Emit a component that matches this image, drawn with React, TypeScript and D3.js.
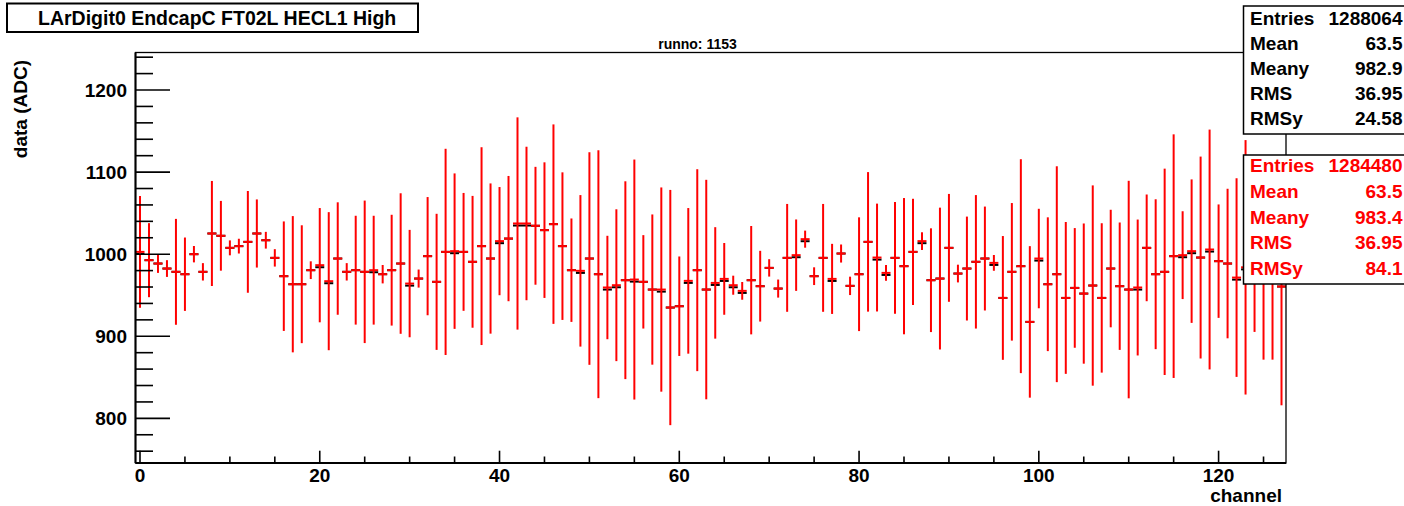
import React from "react";
import * as d3 from "d3";

// channel profile data (red = current run, black = reference)
const channels: number[] = d3.range(0, 128);

const redMean: number[] = [
  1002.8, 992.7, 988.6, 982.5, 978.5, 975.6, 1000, 978.5, 1025.2, 1022.4,
  1007.7, 1009.8, 1015, 1025.2, 1017, 995.5, 973.2, 963.4, 963.4, 980.5,
  986.6, 967.1, 994.7, 978.5, 980.5, 978.5, 980.5, 975.6, 980.5, 988.6,
  964.2, 970.3, 997.6, 966.3, 1002.8, 1003.7, 1002.8, 990.7, 1009.8, 994.7,
  1015.9, 1019, 1037.4, 1037.4, 1034.6, 1029.3, 1036.6, 1009.8, 980.5, 979.7,
  994.7, 975.6, 959.4, 962.2, 968.3, 969.1, 966.3, 956.9, 956.9, 935,
  936.6, 967.5, 980.5, 956.9, 965, 969.9, 962.2, 955.3, 968.3, 961,
  983.3, 958.1, 995.5, 998.8, 1018.3, 973.2, 995.5, 969.9, 1000.8, 961.4,
  975.6, 1015, 995.9, 977.2, 995.5, 985.4, 1002.8, 1015.9, 968.3, 970.3,
  1007.7, 976.4, 982.5, 990.7, 994.7, 989.4, 946.7, 978.5, 985.4, 917.5,
  994.7, 963.4, 975.6, 946.7, 958.9, 952, 961.8, 946.7, 982.5, 961,
  956.9, 959.4, 1007.7, 975.6, 978.5, 997.6, 998.8, 1003.7, 995.9, 1005.7,
  991.5, 988.6, 971.5, 984, 975, 968, 972, 960.6,
];

const redErr: number[] = [
  68.1, 45.1, 11.4, 10.2, 64.5, 44.7, 10, 10.6, 64, 42.5,
  9.1, 9, 62, 41.5, 10.2, 10.6, 66.7, 83, 71.8, 10.8,
  69.6, 84.1, 68.5, 10.6, 66.3, 86.8, 66.3, 11.2, 67.5, 85.6,
  65.4, 11, 72, 82.9, 125.6, 94.7, 71.8, 80.3, 120.5, 91.5,
  65.9, 76.3, 129.3, 93.5, 71.8, 82.6, 121.5, 89.9, 63, 92.3,
  129.5, 151, 63, 92.5, 120.5, 146.2, 56.9, 91.5, 124.4, 143.3,
  60.6, 88.7, 123, 133.7, 67.9, 43.7, 11.6, 10.8, 66, 43.1,
  10.6, 11, 65.7, 43.5, 10.4, 10.8, 65.7, 42.7, 11, 11.2,
  69.3, 85, 65.7, 9.6, 68.1, 83, 64.7, 10.8, 63.2, 86.4,
  65.7, 10.8, 63.3, 81.3, 63.3, 9.6, 75.4, 83.8, 130.3, 92.3,
  60.6, 81.5, 131.5, 92.5, 72.9, 85.4, 122, 91, 71.6, 77.6,
  132.5, 82.8, 65, 91.3, 125.7, 148.4, 53.5, 87.4, 123, 146.1,
  69.1, 91.1, 121, 155, 69.7, 96.5, 100.5, 144.7,
];

const blackMean: number[] = [
  1000.3, 992.7, 988.6, 982.5, 978.5, 975.6, 1000, 978.5, 1025.2, 1022.4,
  1007.7, 1009.8, 1015, 1025.2, 1017, 995.5, 973.2, 963.4, 963.4, 980.5,
  984.1, 964.6, 994.7, 978.5, 980.5, 978.5, 978.0, 975.6, 980.5, 988.6,
  961.7, 970.3, 997.6, 966.3, 1002.8, 1001.2, 1002.8, 990.7, 1009.8, 994.7,
  1013.4, 1019, 1034.9, 1034.9, 1034.6, 1029.3, 1036.6, 1009.8, 980.5, 977.2,
  994.7, 975.6, 956.9, 959.7, 968.3, 966.6, 966.3, 956.9, 954.4, 935,
  936.6, 965.0, 980.5, 956.9, 962.5, 967.4, 959.7, 952.8, 968.3, 961,
  983.3, 958.1, 995.5, 996.3, 1015.8, 973.2, 995.5, 967.4, 1000.8, 961.4,
  975.6, 1015, 993.4, 974.7, 995.5, 985.4, 1002.8, 1013.4, 968.3, 970.3,
  1007.7, 976.4, 982.5, 990.7, 994.7, 986.9, 946.7, 978.5, 985.4, 917.5,
  992.2, 963.4, 975.6, 946.7, 958.9, 952, 961.8, 946.7, 982.5, 961,
  956.9, 956.9, 1007.7, 975.6, 978.5, 997.6, 996.3, 1001.2, 995.9, 1003.2,
  991.5, 988.6, 969.0, 981.5, 975, 968, 972, 960.6,
];

const yMajorTicks: number[] = [800, 900, 1000, 1100, 1200];
const xMajorTicks: number[] = [0, 20, 40, 60, 80, 100, 120];

const titleText = "LArDigit0 EndcapC FT02L HECL1 High";
const subTitle = "runno: 1153";
const xTitle = "channel";
const yTitle = "data (ADC)";

const statLabels: string[] = ["Entries", "Mean", "Meany", "RMS", "RMSy"];
const blackStats: string[] = ["1288064", "63.5", "982.9", "36.95", "24.58"];
const redStats: string[] = ["1284480", "63.5", "983.4", "36.95", "84.1"];

const W = 1404;
const H = 506;
const FONT = "'Liberation Sans', Arial, Helvetica, sans-serif";

export default function App() {
  const left = 135.5, right = 1286, top = 52.5, bottom = 463;
  const x = d3.scaleLinear().domain([-0.5, 127.5]).range([left, right]);
  const y = d3.scaleLinear().domain([745.6, 1245.7]).range([bottom, top]);
  const yMinor = d3.range(760, 1245, 20).filter((v) => v % 100 !== 0);
  const xMinor = d3.range(5, 128, 5).filter((v) => v % 20 !== 0);
  const half = 0.5;

  return (
    <svg
      width={W}
      height={H}
      style={{ position: "absolute", left: 0, top: 0, display: "block" }}
      fontFamily={FONT}
      fontWeight="bold"
    >
      <rect x={0} y={0} width={W} height={H} fill="#fff" />

      {/* black reference markers (underneath) */}
      <g stroke="#000" strokeWidth={2}>
        {channels.map((c) => (
          <line
            key={"b" + c}
            x1={x(c - half)}
            x2={x(c + half)}
            y1={y(blackMean[c])}
            y2={y(blackMean[c])}
          />
        ))}
      </g>

      {/* red profile */}
      <g stroke="#ff0000" strokeWidth={2}>
        {channels.map((c) => (
          <g key={"r" + c}>
            <line
              x1={x(c)}
              x2={x(c)}
              y1={y(redMean[c] + redErr[c])}
              y2={y(redMean[c] - redErr[c])}
            />
            <line
              x1={x(c - half)}
              x2={x(c + half)}
              y1={y(redMean[c])}
              y2={y(redMean[c])}
            />
          </g>
        ))}
      </g>

      {/* frame */}
      <rect x={left} y={top} width={right - left} height={bottom - top} fill="none" stroke="#000" strokeWidth={1.3} />
      <line x1={left} x2={left} y1={top} y2={bottom} stroke="#000" strokeWidth={2} />
      <line x1={left} x2={right} y1={bottom} y2={bottom} stroke="#000" strokeWidth={2} />

      {/* ticks */}
      <g stroke="#000" strokeWidth={1.6}>
        {yMajorTicks.map((v) => (
          <line key={"ym" + v} x1={left} x2={left + 34.5} y1={y(v)} y2={y(v)} />
        ))}
        {yMinor.map((v) => (
          <line key={"yn" + v} x1={left} x2={left + 17.5} y1={y(v)} y2={y(v)} />
        ))}
        {xMajorTicks.map((v) => (
          <line key={"xm" + v} x1={x(v)} x2={x(v)} y1={bottom} y2={bottom - 12.3} />
        ))}
        {xMinor.map((v) => (
          <line key={"xn" + v} x1={x(v)} x2={x(v)} y1={bottom} y2={bottom - 6.5} />
        ))}
      </g>

      {/* tick labels */}
      <g fontSize={19} fill="#000">
        {yMajorTicks.map((v) => (
          <text key={"yl" + v} x={127} y={y(v) + 7} textAnchor="end">
            {v}
          </text>
        ))}
        {xMajorTicks.map((v) => (
          <text key={"xl" + v} x={x(v)} y={481.5} textAnchor="middle">
            {v}
          </text>
        ))}
        <text x={1282} y={502} textAnchor="end">{xTitle}</text>
        <text transform="translate(27,60) rotate(-90)" textAnchor="end">{yTitle}</text>
      </g>

      {/* title */}
      <rect x={7} y={3.5} width={411} height={28.5} fill="#fff" stroke="#000" strokeWidth={2} />
      <text x={38} y={25} fontSize={19.5} fill="#000">{titleText}</text>
      <text x={697.5} y={48.5} fontSize={14} textAnchor="middle" fill="#000">{subTitle}</text>

      {/* stats boxes */}
      <rect x={1243.5} y={6} width={170} height={128} fill="#fff" stroke="#000" strokeWidth={1.5} />
      <g fontSize={19} fill="#000">
        {statLabels.map((s, i) => (
          <g key={"bs" + i}>
            <text x={1250} y={24.5 + i * 25.1}>{s}</text>
            <text x={1402.5} y={24.5 + i * 25.1} textAnchor="end">{blackStats[i]}</text>
          </g>
        ))}
      </g>
      <rect x={1243.5} y={155} width={170} height={129} fill="#fff" stroke="#000" strokeWidth={1.5} />
      <g fontSize={19} fill="#ff0000">
        {statLabels.map((s, i) => (
          <g key={"rs" + i}>
            <text x={1250} y={171.7 + i * 25.9}>{s}</text>
            <text x={1402.5} y={171.7 + i * 25.9} textAnchor="end">{redStats[i]}</text>
          </g>
        ))}
      </g>
    </svg>
  );
}
